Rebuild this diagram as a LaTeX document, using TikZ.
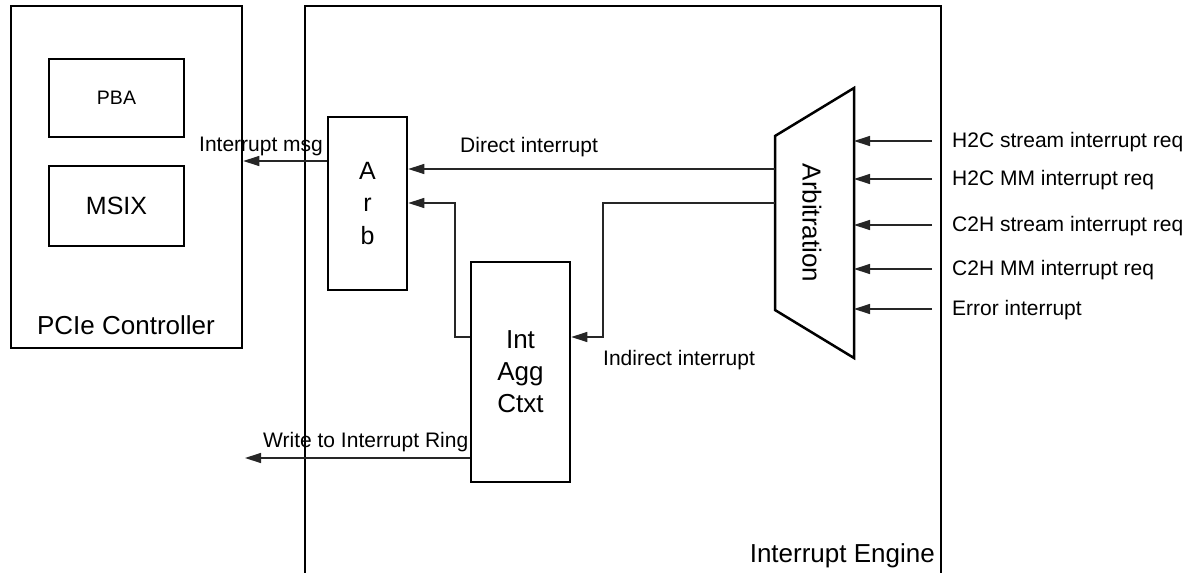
\documentclass[tikz,border=0pt]{standalone}
\usepackage{fontspec}
\setmainfont{Liberation Sans}
\usetikzlibrary{arrows.meta,calc}
\begin{document}
\begin{tikzpicture}[x=1pt,y=-1pt,
 box/.style={draw,line width=2.5pt,inner sep=0pt,align=center},
 conn/.style={draw=black!85,line width=1.3pt,-{Triangle[length=16pt,width=10pt]}},
 wire/.style={draw=black!85,line width=1.3pt},
 lbl/.style={font=\fontsize{21}{25}\selectfont,inner sep=0pt},
 big/.style={font=\fontsize{26}{32}\selectfont,inner sep=0pt},
]
\useasboundingbox (0,0) rectangle (1192,573);
% PCIe controller
\node[box,minimum width=231pt,minimum height=342pt] (pcie) at (126.5,177) {};
\node[box,minimum width=135pt,minimum height=78pt,font=\fontsize{19.5}{24}\selectfont] (pba) at (116.5,98) {PBA};
\node[box,minimum width=135pt,minimum height=80pt,font=\fontsize{25}{30}\selectfont] (msix) at (116.5,206) {MSIX};
\node[big,anchor=base] (pcielbl) at (126,334) {PCIe Controller};
% Interrupt engine frame
\draw[line width=2.5pt] (305,573) -- (305,6) -- (941,6) -- (941,573);
\node[big,anchor=base east] (englbl) at (935,562) {Interrupt Engine};
% Arb
\node[box,minimum width=79pt,minimum height=173pt,font=\fontsize{25}{32.5}\selectfont] (arb) at (367.5,203.5) {A\\r\\b};
% Int Agg Ctxt
\node[box,minimum width=99pt,minimum height=220pt,font=\fontsize{26}{32}\selectfont] (agg) at (520.5,372) {Int\\Agg\\Ctxt};
% Arbitration trapezoid
\coordinate (tlt) at (775,136);
\coordinate (tlb) at (775,310);
\coordinate (trt) at (854,88);
\coordinate (trb) at (854,358);
\draw[line width=2.5pt,line join=miter] (tlt) -- (trt) -- (trb) -- (tlb) -- cycle;
\node[big,rotate=-90] (arbit) at (812,223) {Arbitration};
\coordinate (arbD) at (775,169);
\coordinate (arbI) at (775,203);
% connectors
\draw[conn] (arbD) -- (arbD -| arb.east);
\node[lbl,anchor=base west] (dlbl) at (460,152) {Direct interrupt};
\coordinate (ibend) at (603,203);
\draw[conn] (arbI) -- (ibend) -- (ibend |- 0,337) -- (agg.east |- 0,337);
\node[lbl,anchor=base west] (ilbl) at (603,365) {Indirect interrupt};
\coordinate (abend) at (455,337);
\draw[conn] (agg.west |- abend) -- (abend) -- (abend |- 0,203) -- (arb.east |- 0,203);
\draw[conn] (arb.west |- 0,161) -- (pcie.east |- 0,161);
\node[lbl,anchor=base west] (mlbl) at (199,151) {Interrupt msg};
\coordinate (ring) at (245,458);
\draw[conn] (agg.west |- ring) -- (ring);
\node[lbl,anchor=base west] (rlbl) at (263,447) {Write to Interrupt Ring};
% inputs
\foreach \y/\t/\n in {141/H2C stream interrupt req/a,179/H2C MM interrupt req/b,225/C2H stream interrupt req/c,269/C2H MM interrupt req/d,309/Error interrupt/e}{
  \node[lbl,anchor=base west] (in\n) at (952,\y+6.5) {\t};
  \coordinate (src\n) at (932,\y);
  \draw[conn] (src\n) -- (src\n -| trt);
}
\end{tikzpicture}
\end{document}
